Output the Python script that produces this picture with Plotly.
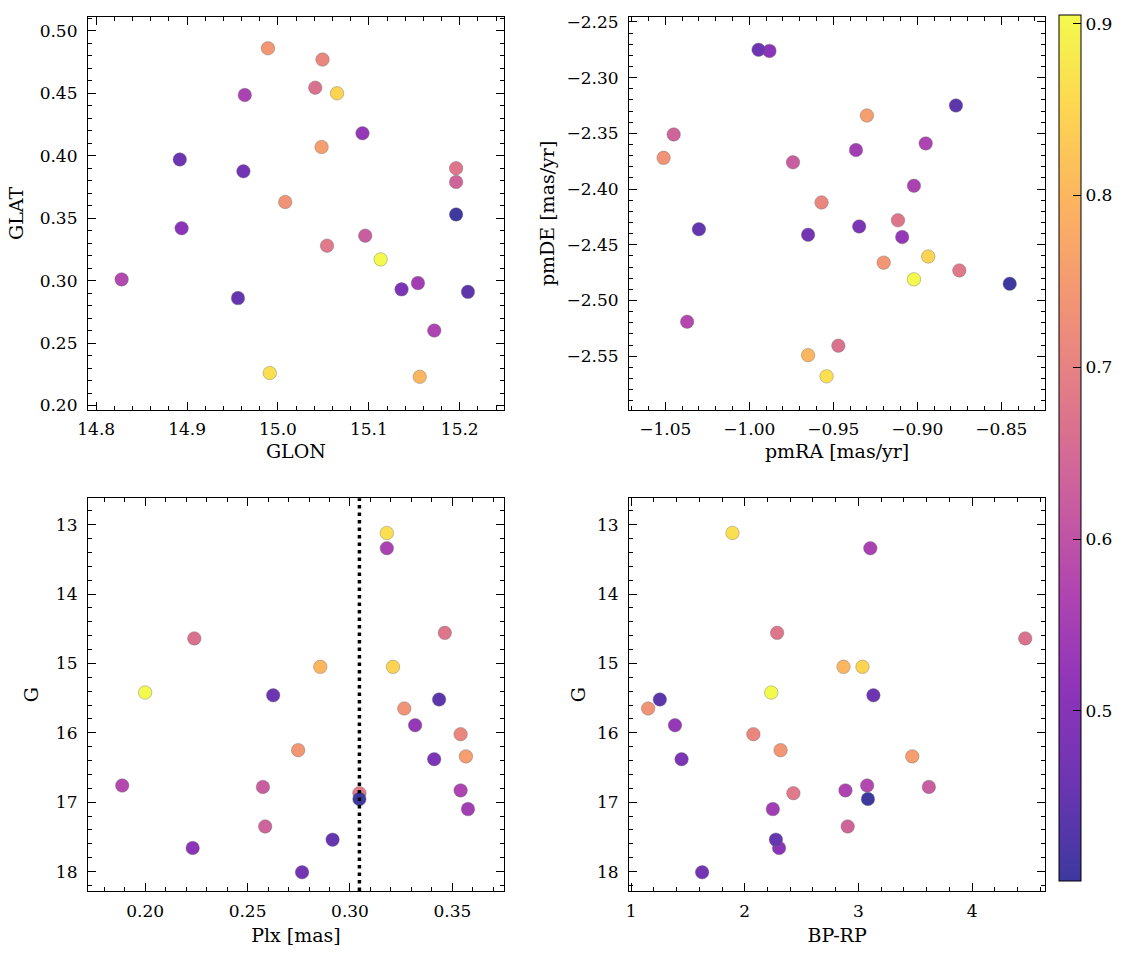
import numpy as np
import plotly.graph_objects as go

# ---------------- data ----------------
color_val = [0.905, 0.865, 0.845, 0.800, 0.755, 0.740, 0.735, 0.710, 0.680, 0.675,
             0.665, 0.635, 0.620, 0.575, 0.565, 0.560, 0.545, 0.525, 0.510, 0.485,
             0.470, 0.460, 0.450, 0.440, 0.401]
glon = [15.113, 14.991, 15.065, 15.156, 15.048, 14.989, 15.008, 15.049, 15.054, 15.196,
        15.041, 15.196, 15.096, 14.828, 15.172, 14.9635, 15.154, 15.093, 14.894, 15.136,
        14.962, 14.892, 14.956, 15.209, 15.196]
glat = [0.317, 0.226, 0.450, 0.223, 0.407, 0.486, 0.363, 0.477, 0.328, 0.390,
        0.4545, 0.379, 0.336, 0.301, 0.260, 0.4486, 0.298, 0.418, 0.342, 0.293,
        0.3875, 0.397, 0.286, 0.291, 0.353]
pmra = [-0.902, -0.954, -0.8935, -0.965, -0.930, -0.920, -1.051, -0.957, -0.875, -0.9115,
        -0.947, -1.045, -0.974, -1.037, -0.895, -0.902, -0.9365, -0.909, -0.988, -0.9346,
        -0.965, -0.9945, -1.030, -0.877, -0.845]
pmde = [-2.481, -2.568, -2.4605, -2.549, -2.334, -2.466, -2.372, -2.412, -2.473, -2.428,
        -2.5405, -2.351, -2.376, -2.519, -2.359, -2.397, -2.365, -2.443, -2.276, -2.4335,
        -2.441, -2.275, -2.436, -2.325, -2.485]
plx = [0.200, 0.318, 0.321, 0.2855, 0.3566, 0.2747, 0.3265, 0.354, 0.3046, 0.3463,
       0.224, 0.2586, 0.2575, 0.1888, 0.354, 0.318, 0.3576, 0.3318, 0.2232, 0.3411,
       0.2766, 0.2625, 0.2915, 0.3435, 0.3046]
gmag = [15.42, 13.12, 15.05, 15.05, 16.34, 16.25, 15.65, 16.02, 16.87, 14.56,
        14.64, 17.35, 16.78, 16.76, 16.83, 13.34, 17.10, 15.89, 17.66, 16.38,
        18.01, 15.46, 17.54, 15.52, 16.955]
bprp = [2.233, 1.892, 3.036, 2.869, 3.474, 2.315, 1.150, 2.076, 2.428, 2.285,
        4.468, 2.906, 3.620, 3.077, 2.886, 3.105, 2.247, 1.386, 2.302, 1.444,
        1.625, 3.132, 2.274, 1.253, 3.084]
plx_ref = 0.3046

cb_ticks = [0.5, 0.6, 0.7, 0.8, 0.9]

# ---------------- style ----------------
FONT = "DejaVu Serif"
FS_TICK = 17
FS_TITLE = 19
W, H = 1133, 959
ML, MR, MT, MB = 88, 1133 - 1050, 12, 959 - 891
PW, PH = W - ML - MR, H - MT - MB

plasma = ['#0d0887', '#46039f', '#7201a8', '#9c179e', '#bd3786',
          '#d8576b', '#ed7953', '#fb9f3a', '#fdca26', '#f0f921']
alpha = 0.8
cscale = []
for i, hx in enumerate(plasma):
    r, g, b = int(hx[1:3], 16), int(hx[3:5], 16), int(hx[5:7], 16)
    r, g, b = [round(alpha * v + (1 - alpha) * 255) for v in (r, g, b)]
    cscale.append([i / (len(plasma) - 1), f"rgb({r},{g},{b})"])

cmin, cmax = min(color_val), max(color_val)

fig = go.Figure()
panels = [
    (glon, glat, "x", "y"),
    (pmra, pmde, "x2", "y2"),
    (plx, gmag, "x3", "y3"),
    (bprp, gmag, "x4", "y4"),
]
for xs, ys, xa, ya in panels:
    fig.add_trace(go.Scatter(
        x=xs, y=ys, xaxis=xa, yaxis=ya, mode="markers",
        marker=dict(size=13.5, color=color_val, coloraxis="coloraxis",
                    line=dict(color="rgba(110,110,110,0.8)", width=0.5)),
        showlegend=False, hoverinfo="skip"))

def px2fx(px):
    return (px - ML) / PW

def py2fy(py):
    return (MT + PH - py) / PH

dx1 = [0, px2fx(506)]
dx2 = [px2fx(632), 1]
dy_top = [py2fy(407), 1]
dy_bot = [0, py2fy(496)]

def ax(domain, rng, dtick, minor_dtick, fmt, title, anchor, tick0=None, standoff=8, lblpad=8):
    d = dict(domain=domain, range=rng, dtick=dtick, tickformat=fmt,
             ticks="inside", ticklen=8, tickwidth=1, tickcolor="black",
             showline=True, linecolor="black", linewidth=1.2, mirror="ticks",
             showgrid=False, zeroline=False, anchor=anchor,
             tickfont=dict(family=FONT, size=FS_TICK, color="black"),
             ticklabelstandoff=lblpad,
             minor=dict(ticks="inside", ticklen=4, tickwidth=1, tickcolor="black",
                        dtick=minor_dtick, showgrid=False),
             title=dict(text=title, font=dict(family=FONT, size=FS_TITLE, color="black"),
                        standoff=standoff))
    if tick0 is not None:
        d["tick0"] = tick0
        d["minor"]["tick0"] = tick0
    return d

XS, XL = 6, 4     # x-title standoff, x tick-label pad
YS, YL = 10, 6    # y-title standoff, y tick-label pad

fig.update_layout(
    width=W, height=H, margin=dict(l=ML, r=MR, t=MT, b=MB),
    paper_bgcolor="white", plot_bgcolor="white",
    xaxis=ax(dx1, [14.791, 15.2485], 0.1, 0.02, ".1f", "GLON", "y", 14.8, XS, XL),
    yaxis=ax(dy_top, [0.1966, 0.5111], 0.05, 0.01, ".2f", "GLAT", "x", 0.2, YS, YL),
    xaxis2=ax(dx2, [-1.0715, -0.824], 0.05, 0.01, ".2f", "pmRA [mas/yr]", "y2", -1.0, XS, XL),
    yaxis2=ax(dy_top, [-2.598, -2.2456], 0.05, 0.01, ".2f", "pmDE [mas/yr]", "x2", -2.5, YS - 4, YL),
    xaxis3=ax(dx1, [0.1721, 0.3751], 0.05, 0.01, ".2f", "Plx [mas]", "y3", 0.2, XS + 3, XL),
    yaxis3=ax(dy_bot, [18.28, 12.62], 1, 0.2, "d", "G", "x3", 13, YS + 2, YL),
    xaxis4=ax(dx2, [0.983, 4.642], 1, 0.2, "d", "BP-RP", "y4", 1, XS + 3, XL),
    yaxis4=ax(dy_bot, [18.28, 12.62], 1, 0.2, "d", "G", "x4", 13, YS - 4, YL),
    coloraxis=dict(
        colorscale=cscale, cmin=cmin, cmax=cmax,
        colorbar=dict(
            thickness=22, thicknessmode="pixels",
            len=866, lenmode="pixels",
            x=px2fx(1064), xanchor="left", xpad=0,
            y=py2fy(10), yanchor="top", ypad=0,
            outlinewidth=1, outlinecolor="black",
            ticks="inside", ticklen=8, tickwidth=1, tickcolor="black",
            tickvals=cb_ticks, tickformat=".1f",
            tickfont=dict(family=FONT, size=FS_TICK, color="black"))),
)

# reference parallax line
fig.add_shape(type="line", xref="x3", yref="y3 domain", x0=plx_ref, x1=plx_ref, y0=0, y1=1,
              line=dict(color="black", width=3.5, dash="3.5px,4px"), layer="above")

# minor ticks on colorbar
bar_right = px2fx(1086)
bar_bot = py2fy(876)
bar_len = 866 / PH
majors = set(round(v, 2) for v in cb_ticks)
for v in np.arange(0.42, cmax, 0.02):
    v = round(v, 2)
    if v in majors:
        continue
    yy = bar_bot + (v - cmin) / (cmax - cmin) * bar_len
    fig.add_shape(type="line", xref="paper", yref="paper",
                  x0=bar_right - 4 / PW, x1=bar_right, y0=yy, y1=yy,
                  line=dict(color="black", width=1))

fig.write_html("out.html")
